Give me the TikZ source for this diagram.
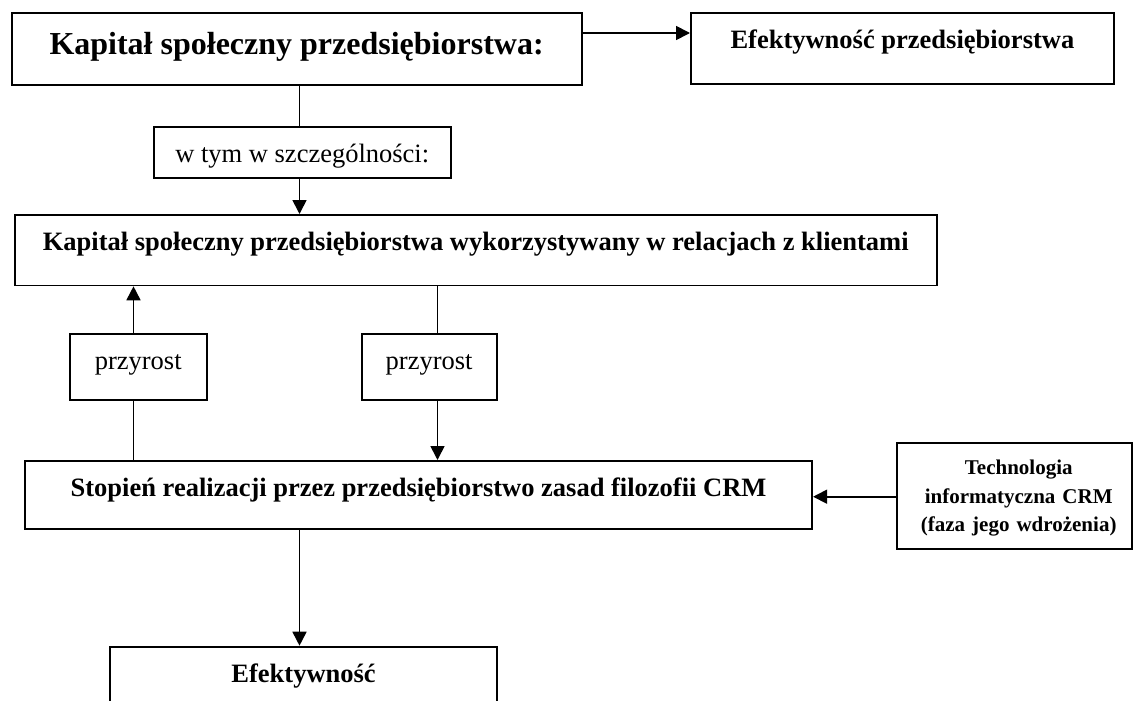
\documentclass[tikz,border=0pt]{standalone}
\usepackage{fontspec}
\setmainfont{Liberation Serif}
\usetikzlibrary{arrows.meta}
\begin{document}
\begin{tikzpicture}[x=1pt,y=-1pt,
  box/.style={draw,line width=1.8pt,rectangle,inner sep=0pt,anchor=north west},
  conn/.style={line width=1.7pt},
  arr/.style={conn,-{Triangle[length=14pt,width=14pt]}},
  big/.style={font=\fontsize{32}{38}\selectfont\bfseries},
  bmid/.style={font=\fontsize{26.5}{32}\selectfont\bfseries},
  rmid/.style={font=\fontsize{26.5}{32}\selectfont},
  small/.style={font=\fontsize{21}{28.3}\selectfont\bfseries}]
\useasboundingbox (0,0) rectangle (1133,701);
\clip (0,0) rectangle (1133,701);
\node[box,big,minimum width=570pt,text height=41.3pt,text depth=30.7pt] (kap) at (10.7,12) {Kapitał społeczny przedsiębiorstwa:};
\node[box,bmid,minimum width=423pt,text height=35.2pt,text depth=36pt] (eff) at (690,12.3) {Efektywność przedsiębiorstwa};
\node[box,rmid,minimum width=297.3pt,text height=36pt,text depth=15.3pt] (wtym) at (152.7,125.7) {w tym w szczególności:};
\node[box,bmid,minimum width=921.7pt,text height=36pt,text depth=34.5pt] (k3) at (14,214) {Kapitał społeczny przedsiębiorstwa wykorzystywany w relacjach z klientami};
\node[box,rmid,minimum width=136.7pt,text height=36pt,text depth=30pt] (p1) at (69,333) {przyrost};
\node[box,rmid,minimum width=135pt,text height=36pt,text depth=30pt] (p2) at (360.7,333) {przyrost};
\node[box,bmid,minimum width=787.3pt,text height=36pt,text depth=32pt] (crm) at (24,460) {Stopień realizacji przez przedsiębiorstwo zasad filozofii CRM};
\node[box,small,text width=235pt,align=center,text height=31.7pt,text depth=74pt] (tech) at (896.3,442.3) {\hspace*{8pt}Technologia\\\hspace*{8pt}informatyczna CRM\\\hspace*{8pt}(faza jego wdrożenia)};
\node[box,bmid,minimum width=387.4pt,text height=36pt,text depth=58pt] (efekt) at (109,645.7) {Efektywność};
\coordinate (xa) at (299.5,0);
\coordinate (xb) at (133.5,0);
\coordinate (xc) at (437.5,0);
\coordinate (ya) at (0,33);
\coordinate (yb) at (0,496.7);
\draw[conn] (xa |- kap.south) -- (xa |- wtym.north);
\draw[arr] (xa |- wtym.south) -- (xa |- k3.north);
\draw[arr] (xb |- p1.north) -- (xb |- k3.south);
\draw[conn] (xb |- p1.south) -- (xb |- crm.north);
\draw[conn] (xc |- k3.south) -- (xc |- p2.north);
\draw[arr] (xc |- p2.south) -- (xc |- crm.north);
\draw[arr] (ya -| kap.east) -- (ya -| eff.west);
\draw[arr] (yb -| tech.west) -- (yb -| crm.east);
\draw[arr] (xa |- crm.south) -- (xa |- efekt.north);
\end{tikzpicture}
\end{document}
